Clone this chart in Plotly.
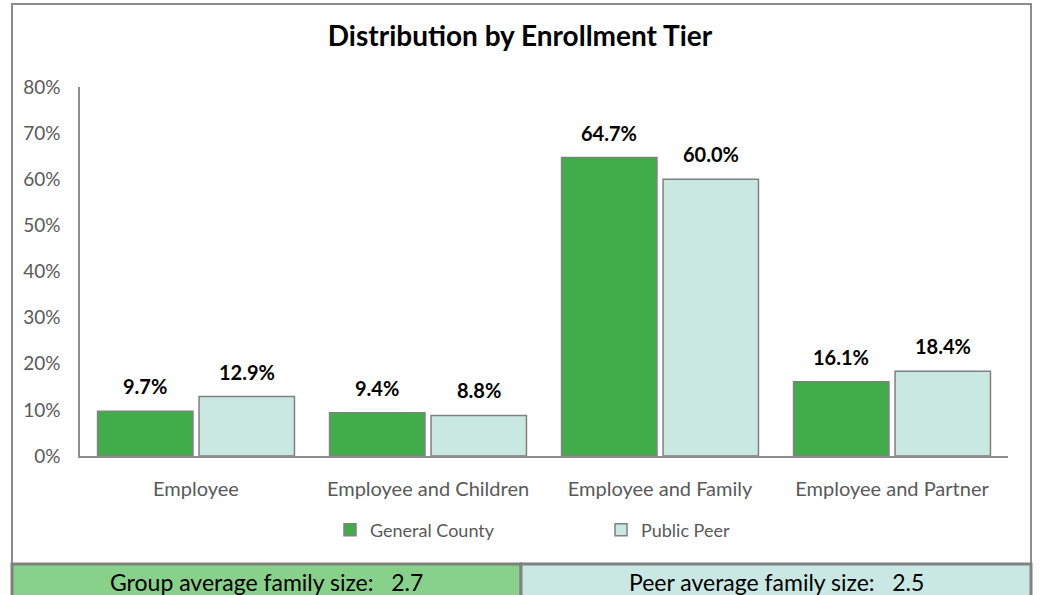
import plotly.graph_objects as go

categories = ["Employee", "Employee and Children", "Employee and Family", "Employee and Partner"]
general_county = [0.097, 0.094, 0.647, 0.161]
public_peer = [0.129, 0.088, 0.600, 0.184]
series_names = ["General County", "Public Peer"]
y_ticks = [0, 0.1, 0.2, 0.3, 0.4, 0.5, 0.6, 0.7, 0.8]
y_tick_labels = ["0%", "10%", "20%", "30%", "40%", "50%", "60%", "70%", "80%"]
group_avg_text = "Group average family size:   2.7"
peer_avg_text = "Peer average family size:   2.5"
title_text = "Distribution by Enrollment Tier"

GREEN = "#40AD4A"
LIGHT = "#C9E8E2"
FONT = "Lato, 'Open Sans', sans-serif"

fig = go.Figure()
for name, vals, col in [(series_names[0], general_county, GREEN), (series_names[1], public_peer, LIGHT)]:
    fig.add_trace(go.Bar(
        name=name, x=categories, y=vals,
        marker=dict(color=col, line=dict(color="#808080", width=1.5)),
        hoverinfo="x+y",
    ))

W, H = 1041, 595
L, R, T, B = 80, 33, 87, 139
pw, ph = W - L - R, H - T - B

def px(x):
    return (x - L) / pw

def py(y):
    return (H - B - y) / ph

annotations = []
for ti, vals in enumerate([general_county, public_peer]):
    for ci, v in enumerate(vals):
        annotations.append(dict(
            x=categories[ci], y=v, xref="x", yref="y",
            text=f"<b>{v*100:.1f}%</b>", showarrow=False,
            xanchor="center", yanchor="bottom", yshift=11,
            xshift=(-51 if ti == 0 else 51),
            font=dict(family=FONT, size=20, color="#000000"),
        ))

annotations += [
    dict(x=px((12 + 521) / 2), y=py(582), xref="paper", yref="paper", text=group_avg_text,
         showarrow=False, xanchor="center", yanchor="middle",
         font=dict(family=FONT, size=23, color="#000000")),
    dict(x=px((521 + 1031) / 2), y=py(582), xref="paper", yref="paper", text=peer_avg_text,
         showarrow=False, xanchor="center", yanchor="middle",
         font=dict(family=FONT, size=23, color="#000000")),
]

shapes = [
    dict(type="rect", xref="paper", yref="paper", x0=px(12), x1=px(1031), y0=py(564), y1=py(4),
         line=dict(color="#8C8C8C", width=2), fillcolor="rgba(0,0,0,0)", layer="below"),
    dict(type="rect", xref="paper", yref="paper", x0=px(12), x1=px(521), y0=py(600), y1=py(564),
         line=dict(color="#808080", width=3), fillcolor="#88D18A", layer="above"),
    dict(type="rect", xref="paper", yref="paper", x0=px(521), x1=px(1031), y0=py(600), y1=py(564),
         line=dict(color="#808080", width=3), fillcolor="#C9E8E3", layer="above"),
]

fig.update_layout(
    width=W, height=H,
    margin=dict(l=L, r=R, t=T, b=B, autoexpand=False),
    paper_bgcolor="white", plot_bgcolor="white",
    title=dict(text=f"<b>{title_text}</b>", xref="container", x=520 / W, xanchor="center",
               yref="container", y=1 - 36 / H, yanchor="middle",
               font=dict(family=FONT, size=28, color="#000000")),
    barmode="group", bargap=0.125, bargroupgap=0.06,
    showlegend=True,
    legend=dict(orientation="h", x=px(330), xanchor="left", y=py(530), yanchor="middle",
                font=dict(family=FONT, size=18, color="#595959"),
                entrywidth=226, entrywidthmode="pixels", itemwidth=30,
                bgcolor="rgba(0,0,0,0)"),
    annotations=annotations,
    shapes=shapes,
    font=dict(family=FONT),
)
fig.update_yaxes(range=[0, 0.8], tickvals=y_ticks, ticktext=y_tick_labels, showgrid=False,
                 showline=True, linecolor="#8C8C8C", linewidth=1.5, zeroline=False,
                 ticks="", ticklabelstandoff=14,
                 tickfont=dict(family=FONT, size=19, color="#595959"))
fig.update_xaxes(showline=True, linecolor="#8C8C8C", linewidth=1.5, ticks="", ticklabelstandoff=14,
                 tickfont=dict(family=FONT, size=20, color="#595959"))

fig.write_html("out.html", config={"displayModeBar": False},
               post_script="document.body.style.margin='0';document.body.style.overflow='hidden';")
